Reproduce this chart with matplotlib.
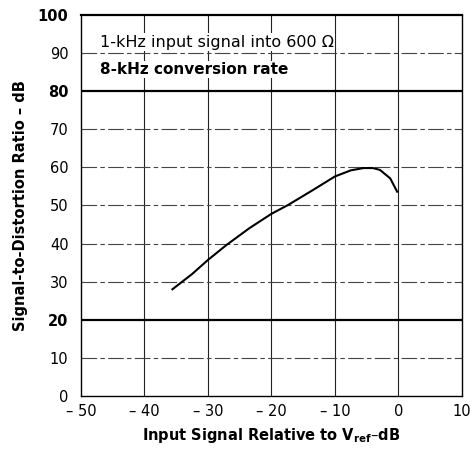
import matplotlib.pyplot as plt

plt.rcParams['font.family'] = ['DejaVu Sans']
plt.rcParams['mathtext.fontset'] = 'dejavusans'

# curve
input_db = [-35.6, -32.5, -30.0, -27.1, -23.5, -20.0, -17.4, -13.5, -10.0, -7.5, -5.5, -4.0, -2.9, -1.3, -0.2]
snd_db = [28.0, 32.0, 35.7, 39.6, 44.0, 47.8, 50.1, 54.0, 57.6, 59.2, 59.8, 59.8, 59.3, 57.1, 53.6]

x_ticks = [-50, -40, -30, -20, -10, 0, 10]
x_labels = ['\u2013 50', '\u2013 40', '\u2013 30', '\u2013 20', '\u2013 10', '0', '10']
y_ticks = [0, 10, 20, 30, 40, 50, 60, 70, 80, 90, 100]
bold_y = [20, 80, 100]

fig = plt.figure(figsize=(4.75, 4.49), dpi=100)
ax = fig.add_axes([0.1705, 0.118, 0.802, 0.849])

ax.set_xlim(-50, 10)
ax.set_ylim(0, 100)

# grid
for xv in x_ticks[1:-1]:
    ax.axvline(xv, color='#222222', linewidth=0.8, zorder=1)
for yv in y_ticks[1:-1]:
    if yv in bold_y:
        ax.axhline(yv, color='black', linewidth=1.6, zorder=1)
    else:
        ax.axhline(yv, color='#444444', linewidth=0.8,
                   linestyle=(0, (14, 3, 4, 3)), zorder=1)

ax.plot(input_db, snd_db, color='black', linewidth=1.5, zorder=3)

for side in ['left', 'right', 'bottom']:
    ax.spines[side].set_linewidth(1.0)
ax.spines['top'].set_linewidth(1.6)

ax.set_xticks(x_ticks)
ax.set_xticklabels(x_labels, fontsize=10.5)
ax.set_yticks(y_ticks)
ax.set_yticklabels([str(v) for v in y_ticks], fontsize=10.5)
for lbl, v in zip(ax.get_yticklabels(), y_ticks):
    if v in bold_y:
        lbl.set_fontweight('bold')
ax.tick_params(axis='x', length=0, pad=6)
ax.tick_params(axis='y', length=0, pad=9)

ax.set_xlabel(r'Input Signal Relative to V$_{\mathbf{ref}}$' + '\u2013dB',
              fontsize=10.5, fontweight='bold', labelpad=5)
ax.set_ylabel('Signal-to-Distortion Ratio \u2013 dB',
              fontsize=10.5, fontweight='bold', labelpad=7)

ax.text(-47.0, 91.6, '1-kHz input signal into 600 \u03a9', fontsize=11.5,
        va='baseline', ha='left',
        bbox=dict(facecolor='white', edgecolor='none', pad=1))
ax.text(-47.0, 84.5, '8-kHz conversion rate', fontsize=11,
        fontweight='bold', va='baseline', ha='left',
        bbox=dict(facecolor='white', edgecolor='none', pad=1))

fig.savefig('out.png', dpi=100)
